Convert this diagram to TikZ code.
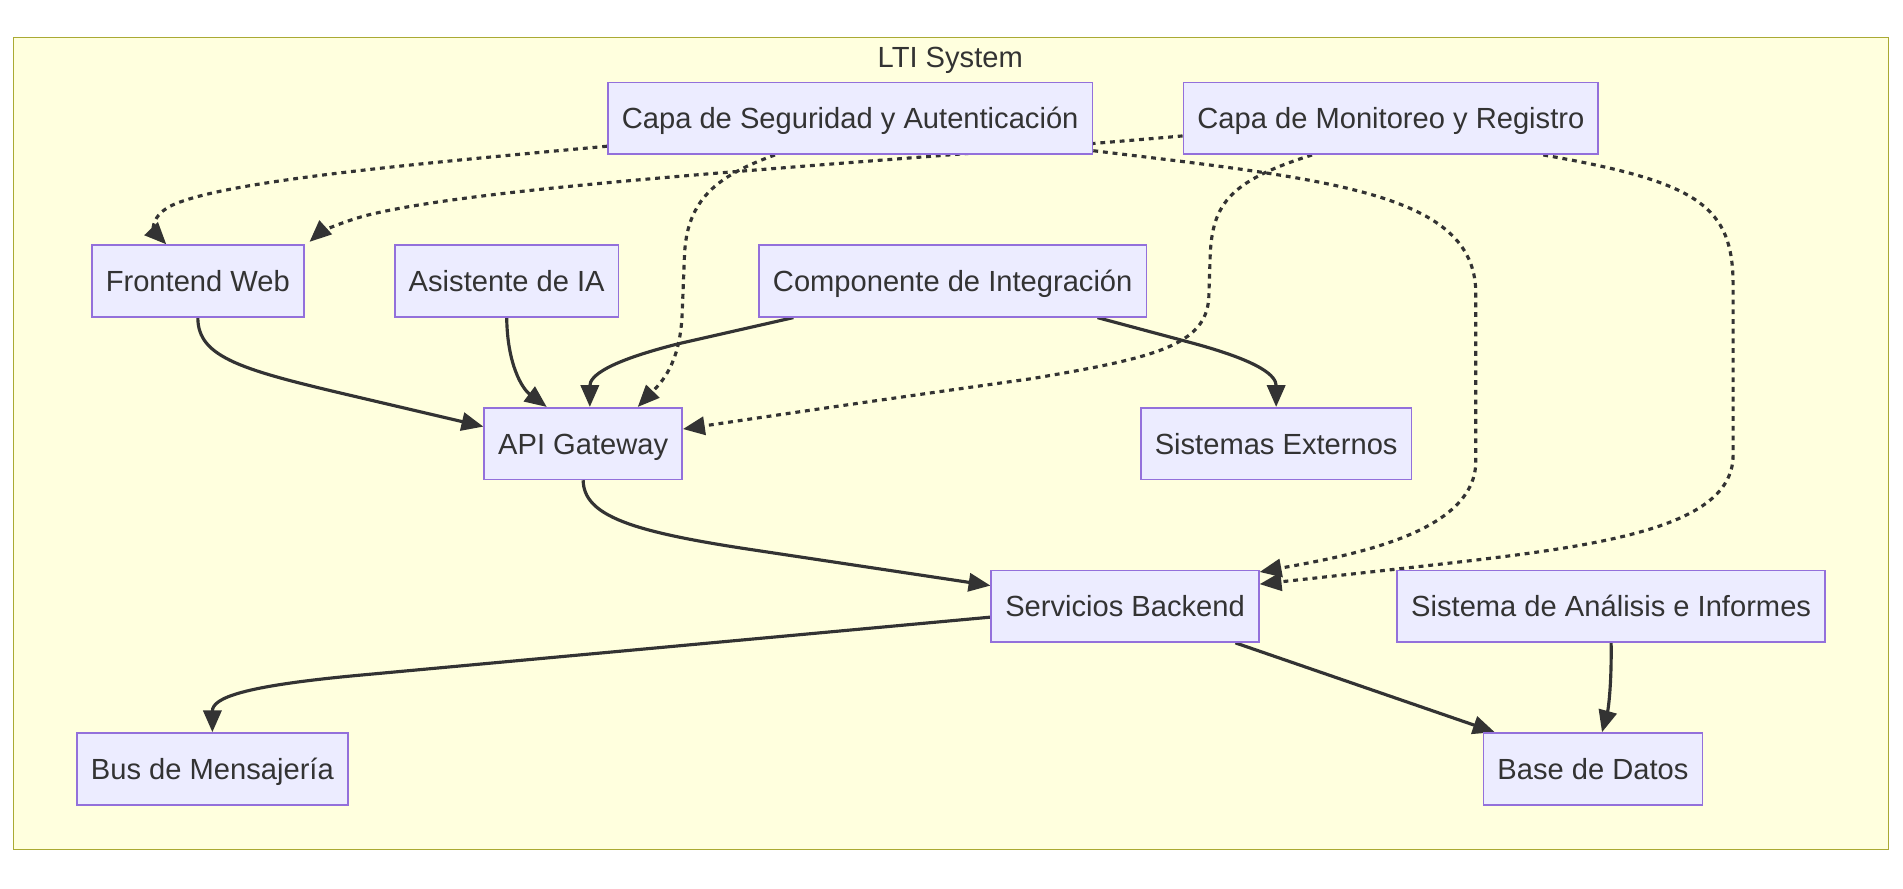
\documentclass[tikz,border=0pt]{standalone}
\usepackage{fontspec}
\setmainfont{Liberation Sans}
\usetikzlibrary{arrows.meta}
\definecolor{clusterfill}{HTML}{FFFFDE}
\definecolor{clusterline}{HTML}{AAAA33}
\definecolor{nodefill}{HTML}{ECECFF}
\definecolor{nodeline}{HTML}{9370DB}
\definecolor{edgecol}{HTML}{333333}
\pgfdeclarelayer{bottom}
\pgfdeclarelayer{links}
\pgfsetlayers{bottom,links,main}

\begin{document}
\begin{tikzpicture}[x=1pt,y=-1pt,
                box/.style={draw=nodeline, fill=nodefill, line width=1.4pt, minimum height=59pt,
                    inner xsep=11.5pt, text height=17.5pt, text depth=0pt, text=edgecol,
                    font=\fontsize{24}{28}\selectfont},
                link/.style={draw=edgecol, line width=2.6pt, -{Triangle[length=18pt,width=15pt]}},
                dotlink/.style={link, dash pattern=on 4pt off 4pt}]
                \useasboundingbox (0,0) rectangle (1568,732.5);
                \begin{pgfonlayer}{bottom}
                \draw[draw=clusterline, fill=clusterfill, line width=1.4pt] (11,31) rectangle (1556,700);
                \end{pgfonlayer}
                \node[anchor=base, text=edgecol, font=\fontsize{24}{28}\selectfont] (title) at (783,56) {LTI System};
                \node[box] (seg) at (700.5,97.5) {Capa de Seguridad y Autenticación};
                \node[box] (mon) at (1146,97.5) {Capa de Monitoreo y Registro};
                \node[box] (front) at (163,231.5) {Frontend Web};
                \node[box] (asis) at (417.5,231.5) {Asistente de IA};
                \node[box] (integ) at (785,231.5) {Componente de Integración};
                \node[box] (api) at (480.5,365.5) {API Gateway};
                \node[box] (ext) at (1051.5,365.5) {Sistemas Externos};
                \node[box] (back) at (927,499.5) {Servicios Backend};
                \node[box] (ana) at (1327.5,499.5) {Sistema de Análisis e Informes};
                \node[box] (bus) at (175,633.5) {Bus de Mensajería};
                \node[box] (db) at (1312.5,633.5) {Base de Datos};
                \begin{pgfonlayer}{links}
                \draw[dotlink] ([yshift=-23pt]seg.west) .. controls (330,136) and (180,150) .. (140,170)
                    .. controls (122,180) and (128,192) .. ([xshift=-26pt]front.north);
                \draw[dotlink] ([yshift=-14.5pt]mon.west) .. controls (700,136) and (400,152) .. (300,178)
                    .. controls (275,185) and (262,193) .. ([xshift=4pt,yshift=2pt]front.north east);
                \draw[dotlink] ([xshift=-62pt]seg.south) .. controls (590,145) and (566,165) .. (564,210)
                    -- (562,260) .. controls (560,300) and (545,315) .. ([xshift=45pt]api.north);
                \draw[dotlink] ([xshift=-65pt]mon.south) .. controls (1010,150) and (998,170) .. (997,215)
                    -- (996,245) .. controls (994,285) and (950,295) .. (850,312)
                    .. controls (700,333) and (620,345) .. ([yshift=12pt]api.east);
                \draw[dotlink] ([yshift=3.5pt]seg.south east) .. controls (1100,148) and (1214,160) .. (1216,240)
                    -- (1216,380) .. controls (1216,440) and (1110,458) .. ([yshift=-2pt]back.north east);
                \draw[dotlink] ([xshift=-46pt]mon.south east) .. controls (1400,150) and (1428,170) .. (1428,235)
                    -- (1428,375) .. controls (1428,440) and (1300,452) .. (1150,469)
                    -- ([yshift=-12pt]back.north east);
                \draw[link] (front.south) .. controls (163,295) and (200,305) .. (294,327) -- ([yshift=14pt]api.west);
                \draw[link] (asis.south) .. controls (418,300) and (430,320) .. ([xshift=-30pt]api.north);
                \draw[link] ([xshift=29pt]integ.south west) -- (560,283) .. controls (500,298) and (486,310) .. ([xshift=5.5pt]api.north);
                \draw[link] ([xshift=-41pt]integ.south east) -- (980,282) .. controls (1040,298) and (1051.5,310) .. (ext.north);
                \draw[link] (api.south) .. controls (481,425) and (520,438) .. (620,453) -- ([yshift=17pt]back.west);
                \draw[link] ([yshift=-9pt]back.west) -- (300,556) .. controls (200,565) and (175,575) .. (bus.north);
                \draw[link] ([xshift=-20pt]back.south east) -- ([xshift=10pt]db.north west);
                \draw[link] (ana.south) .. controls (1328,565) and (1325,585) .. ([xshift=7.5pt]db.north);
                \end{pgfonlayer}
            \end{tikzpicture}
\end{document}
